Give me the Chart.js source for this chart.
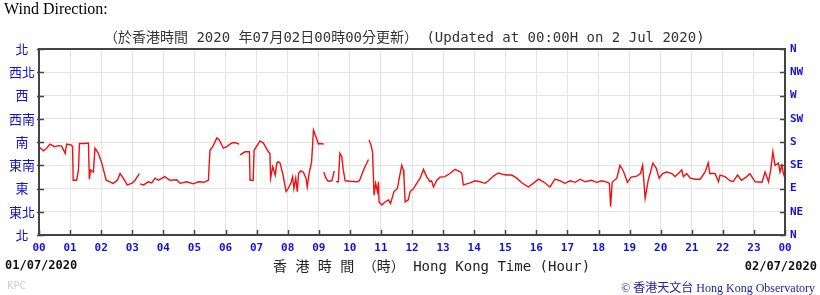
<!DOCTYPE html>
<html>
<head>
<meta charset="utf-8">
<script src="https://cdn.jsdelivr.net/npm/chart.js@4/dist/chart.umd.min.js"></script>
<style>
  body { margin: 0; background: #fff; }
  #wrap { position: relative; width: 820px; height: 295px; overflow: hidden; }
  #myChart { position: absolute; left: 0; top: 0; }
  .txt { position: absolute; white-space: pre; line-height: 16px; }
  .mono { font-family: "DejaVu Sans Mono", "Noto Sans CJK TC", monospace; }
</style>
</head>
<body>
<div id="wrap">
  <canvas id="myChart" width="820" height="295"></canvas>
  <div class="txt" style="left:4px; top:0px; font:16px 'Liberation Serif', serif; color:#000;">Wind Direction:</div>
  <div class="txt mono" style="left:104px; top:29px; font-size:14px; color:#333;">（於香港時間 2020 年07月02日00時00分更新） (Updated at 00:00H on 2 Jul 2020)</div>
  <div class="txt mono" style="left:5px; top:257px; font-size:12px; font-weight:bold; color:#111;">01/07/2020</div>
  <div class="txt mono" style="left:273px; top:258px; font-size:14px; color:#222;">香 港 時 間 （時） Hong Kong Time (Hour)</div>
  <div class="txt mono" style="right:3px; top:258px; font-size:12px; font-weight:bold; color:#111;">02/07/2020</div>
  <div class="txt" style="left:7px; top:280px; font:10px 'DejaVu Sans', sans-serif; color:#d0d0d0;">KPC</div>
  <div class="txt" style="right:5px; top:278px; font:12px 'Liberation Serif', 'Noto Sans CJK TC', serif; color:#22229a;">© 香港天文台 Hong Kong Observatory</div>
</div>
<script>
// hours after 00:00 on 01/07/2020, wind direction in degrees (null = no data)
const hours = [
  0, 0.14, 0.25, 0.35, 0.51, 0.62, 0.73, 0.84, 0.89, 1.05, 1.08, 1.10, 1.21, 1.27, 1.30, 1.45, 1.59, 1.62, 1.66, 1.75,
  1.80, 1.91, 2.02, 2.16, 2.28, 2.39, 2.52, 2.61, 2.71, 2.84, 2.98, 3.09, 3.23, 3.24,
  3.25, 3.36, 3.52, 3.63, 3.73, 3.84, 4.05, 4.21, 4.43, 4.54, 4.75, 4.97, 5.13, 5.30, 5.45, 5.50, 5.59, 5.72, 5.80, 5.93,
  6.04, 6.20, 6.30, 6.44, 6.45,
  6.47, 6.63, 6.77, 6.79, 6.89, 6.92, 7.11, 7.22, 7.38, 7.43, 7.45, 7.52, 7.60, 7.65, 7.70, 7.75, 7.84, 7.95, 8.02, 8.10,
  8.16, 8.20, 8.26, 8.31, 8.35, 8.42, 8.50, 8.59, 8.63, 8.69, 8.77, 8.83, 8.91, 8.99, 9.04, 9.16, 9.16,
  9.16, 9.23, 9.30, 9.42, 9.50, 9.53,
  9.56, 9.63, 9.68, 9.74, 9.79, 9.85, 10.00, 10.22, 10.31, 10.44, 10.60, 10.61,
  10.62, 10.68, 10.73, 10.78, 10.83, 10.89, 10.92, 10.94, 11.03, 11.13, 11.24, 11.31, 11.42, 11.53, 11.59, 11.67, 11.72, 11.74, 11.78, 11.88,
  11.94, 12.05, 12.15, 12.26, 12.37, 12.47, 12.58, 12.63, 12.69, 12.80, 12.90, 13.06, 13.22, 13.38, 13.49, 13.60, 13.65, 13.76, 13.87, 14.03,
  14.19, 14.35, 14.46, 14.62, 14.78, 14.94, 15.05, 15.21, 15.37, 15.53, 15.74, 15.90, 16.07, 16.23, 16.44, 16.60, 16.76, 16.92, 17.09, 17.25,
  17.41, 17.57, 17.78, 17.94, 18.10, 18.29, 18.35, 18.39, 18.44, 18.59, 18.69, 18.80, 18.93, 19.05, 19.23, 19.35, 19.42, 19.50, 19.60, 19.75,
  19.86, 19.95, 20.06, 20.20, 20.36, 20.46, 20.57, 20.68, 20.73, 20.84, 20.95, 21.11, 21.27, 21.43, 21.53, 21.58, 21.75, 21.86, 21.91, 22.07,
  22.23, 22.33, 22.47, 22.60, 22.77, 22.87, 23.04, 23.26, 23.36, 23.47, 23.54, 23.61, 23.68, 23.79, 23.84, 23.90, 23.95, 24.00
];
const directions = [
  171, 163, 168, 176, 171, 173, 172, 158, 176, 174, 170, 106, 106, 126, 177, 177, 178, 108, 126, 122,
  168, 158, 139, 106, 103, 100, 106, 119, 110, 97, 100, 106, 119, null,
  99, 97, 103, 101, 110, 106, 113, 106, 107, 100, 103, 99, 103, 102, 106, 164, 171, 188, 184, 168,
  171, 178, 179, 176, null,
  155, 161, 161, 106, 106, 164, 182, 178, 161, 158, 110, 132, 116, 139, 142, 140, 119, 84, 90, 100,
  113, 90, 110, 84, 119, 124, 122, 110, 93, 119, 142, 203, 190, 176, 177, 176, null,
  122, 110, 104, 105, 124, null,
  103, 103, 158, 152, 126, 105, 104, 103, 105, 126, 146, null,
  184, 174, 161, 77, 100, 84, 103, 64, 58, 64, 68, 61, 84, 90, 110, 135, 126, 113, 64, 68,
  84, 90, 100, 110, 127, 113, 103, 105, 93, 106, 112, 113, 119, 127, 124, 120, 97, 99, 101, 105,
  103, 100, 105, 114, 120, 117, 116, 116, 110, 101, 93, 100, 108, 103, 93, 108, 105, 100, 105, 102,
  108, 103, 106, 102, 105, 102, 100, 55, 102, 110, 135, 124, 102, 112, 114, 119, 135, 71, 106, 139,
  129, 110, 119, 122, 119, 113, 119, 126, 113, 119, 110, 108, 108, 122, 140, 119, 119, 103, 116, 113,
  105, 103, 116, 106, 113, 119, 103, 102, 122, 103, 126, 161, 135, 139, 122, 135, 119, 110
];
const hourLabels = ['00', '01', '02', '03', '04', '05', '06', '07', '08', '09', '10', '11', '12',
  '13', '14', '15', '16', '17', '18', '19', '20', '21', '22', '23', '00'];
const dirLabelsZh = ['北', '東北', '東', '東南', '南', '西南', '西', '西北', '北'];
const dirLabelsEn = ['N', 'NE', 'E', 'SE', 'S', 'SW', 'W', 'NW', 'N'];

const blue = '#1111dd';
const gridColor = '#e4e4e4';

// box round the plot and the short inner tick marks
const framePlugin = {
    id: 'frame',
    afterDraw(chart) {
        const { ctx, chartArea: a, scales } = chart;
        ctx.save();
        ctx.strokeStyle = '#444';
        ctx.lineWidth = 1.5;
        ctx.beginPath();
        scales.x.ticks.forEach(t => {
            const px = Math.round(scales.x.getPixelForValue(t.value)) + 0.5;
            ctx.moveTo(px, a.bottom);
            ctx.lineTo(px, a.bottom - 5);
        });
        scales.y.ticks.forEach(t => {
            const py = Math.round(scales.y.getPixelForValue(t.value)) + 0.5;
            ctx.moveTo(a.left - 2, py);
            ctx.lineTo(a.left + 5, py);
            ctx.moveTo(a.right - 5, py);
            ctx.lineTo(a.right, py);
        });
        ctx.stroke();
        ctx.lineWidth = 2;
        ctx.strokeRect(a.left, a.top, a.right - a.left, a.bottom - a.top);
        ctx.restore();
    }
};

const ctx = document.getElementById('myChart');
const myChart = new Chart(ctx, {
    type: 'line',
    data: {
        datasets: [{
            data: hours.map((h, i) => ({ x: h, y: directions[i] })),
            borderColor: '#f01010',
            borderWidth: 1.4,
            pointRadius: 0,
            tension: 0,
            spanGaps: false
        }]
    },
    options: {
        responsive: false,
        animation: false,
        devicePixelRatio: 1,
        layout: { padding: { top: 49, left: 0, right: 0, bottom: 0 } },
        plugins: { legend: { display: false }, tooltip: { enabled: false } },
        scales: {
            x: {
                type: 'linear',
                min: 0,
                max: 24,
                afterFit: (s) => { s.height = 60; },
                afterBuildTicks: (s) => { s.ticks = hourLabels.map((l, i) => ({ value: i })); },
                ticks: {
                    autoSkip: false,
                    maxRotation: 0,
                    padding: 7,
                    color: blue,
                    font: { family: 'DejaVu Sans Mono', size: 11, weight: 'bold' },
                    callback: (v) => hourLabels[v]
                },
                grid: { color: gridColor, drawTicks: false },
                border: { display: false }
            },
            y: {
                position: 'left',
                min: 0,
                max: 360,
                afterFit: (s) => { s.width = 39; },
                afterBuildTicks: (s) => { s.ticks = dirLabelsZh.map((l, i) => ({ value: i * 45 })); },
                ticks: {
                    autoSkip: false,
                    crossAlign: 'center',
                    padding: 4,
                    color: blue,
                    font: { family: 'Noto Sans CJK TC', size: 13 },
                    callback: (v) => dirLabelsZh[v / 45]
                },
                grid: { color: gridColor, drawTicks: false },
                border: { display: false }
            },
            y2: {
                position: 'right',
                min: 0,
                max: 360,
                afterFit: (s) => { s.width = 35; },
                afterBuildTicks: (s) => { s.ticks = dirLabelsEn.map((l, i) => ({ value: i * 45 })); },
                ticks: {
                    autoSkip: false,
                    padding: 5,
                    color: blue,
                    font: { family: 'DejaVu Sans Mono', size: 11, weight: 'bold' },
                    callback: (v) => dirLabelsEn[v / 45]
                },
                grid: { drawOnChartArea: false, drawTicks: false },
                border: { display: false }
            }
        }
    },
    plugins: [framePlugin]
});
</script>
</body>
</html>
